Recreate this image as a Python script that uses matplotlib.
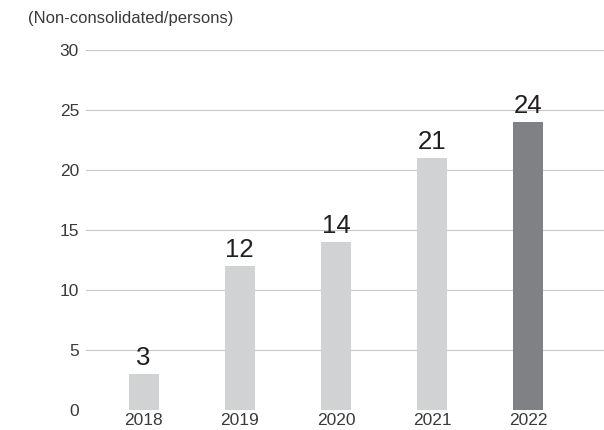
import matplotlib.pyplot as plt

plt.rcParams['font.family'] = ['Liberation Sans', 'DejaVu Sans']

years = ['2018', '2019', '2020', '2021', '2022']
persons = [3, 12, 14, 21, 24]
bar_colors = ['#d1d2d4', '#d1d2d4', '#d1d2d4', '#d1d2d4', '#808184']
yticks = [0, 5, 10, 15, 20, 25, 30]

fig = plt.figure(figsize=(6.04, 4.30), dpi=100)
ax = fig.add_axes([0.1424, 0.0465, 0.8576, 0.8372])

x = range(len(years))
bars = ax.bar(x, persons, width=0.31, color=bar_colors, zorder=3)

# value labels above each bar
for b, v in zip(bars, persons):
    ax.text(b.get_x() + b.get_width() / 2, v + 0.3, str(v),
            ha='center', va='bottom', fontsize=18.5, color='#231f20')

ax.set_xlim(-0.6, 4.79)
ax.set_ylim(0, 30)
ax.set_yticks(yticks)
ax.set_xticks(list(x))
ax.set_xticklabels(years)

for y in yticks[1:]:
    ax.axhline(y, color='#c8c8c8', lw=0.8, zorder=1)

for s in ax.spines.values():
    s.set_visible(False)
ax.tick_params(axis='both', length=0, labelsize=12.5, colors='#3a3a3a')
ax.tick_params(axis='y', pad=5)
ax.tick_params(axis='x', pad=2)

fig.text(0.046, 0.958, '(Non-consolidated/persons)', fontsize=12,
         color='#3a3a3a', ha='left', va='center')

fig.savefig('out.png', dpi=100)
